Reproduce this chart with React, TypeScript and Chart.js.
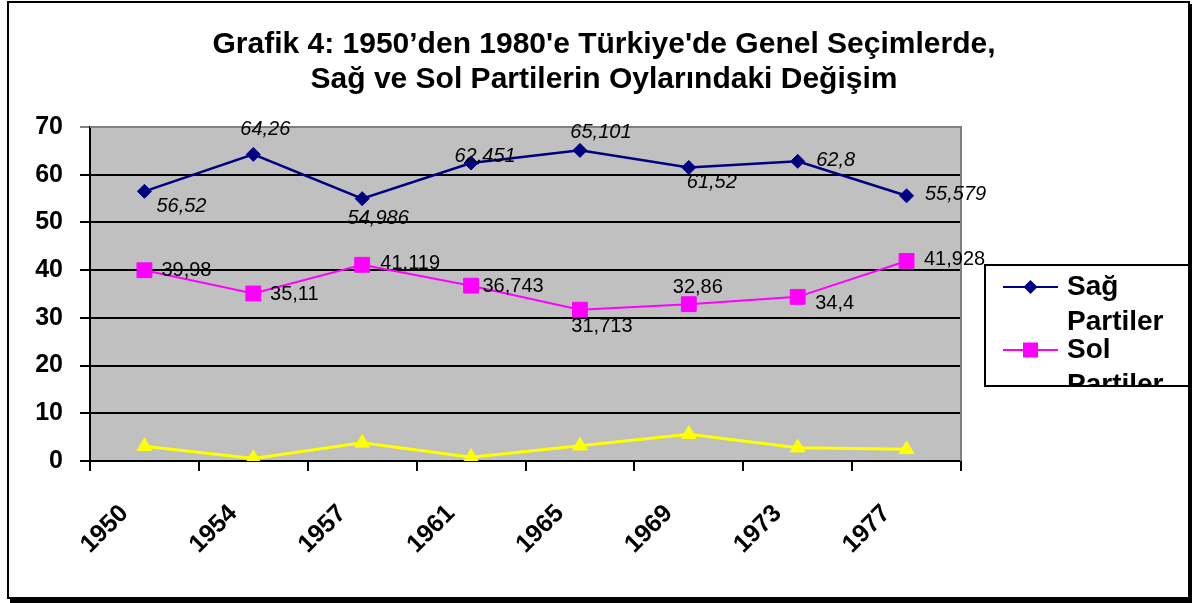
import React, { useEffect, useRef } from "react";
import { Chart, registerables } from "chart.js";

Chart.register(...registerables);

// ---------- data ----------
const categories = ["1950", "1954", "1957", "1961", "1965", "1969", "1973", "1977"];
const sagPartiler = [56.52, 64.26, 54.986, 62.451, 65.101, 61.52, 62.8, 55.579];
const solPartiler = [39.98, 35.11, 41.119, 36.743, 31.713, 32.86, 34.4, 41.928];
const digerPartiler = [3.1, 0.55, 3.8, 0.8, 3.2, 5.6, 2.8, 2.45];
const yTickValues = [0, 10, 20, 30, 40, 50, 60, 70];
const seriesNames = ["Sağ Partiler", "Sol Partiler", "Diğer Partiler"];
const titleLines = [
  "Grafik 4: 1950’den 1980'e Türkiye'de Genel Seçimlerde,",
  "Sağ ve Sol Partilerin Oylarındaki Değişim",
];

// ---------- styles / label placement (pixel offsets from each point) ----------
const FONT = "'Liberation Sans', Arial, sans-serif";
const sagLabelOffsets = [[37, 15], [12, -25], [16, 20], [14, -7], [21, -18], [23, 15], [38, -1], [49, -1]];
const solLabelOffsets = [[42, 0], [41, 1.5], [48, -1], [42, 1], [22, 17], [9, -17], [37, 7], [48, -1]];

const fmt = (v: number) => String(v).replace(".", ",");

const frameAndTitlePlugin = {
  id: "frameAndTitle",
  beforeDraw(chart: any) {
    const { ctx, chartArea } = chart;
    ctx.save();
    ctx.fillStyle = "#ffffff";
    ctx.fillRect(0, 0, chart.width, chart.height);
    ctx.fillStyle = "#C0C0C0";
    ctx.fillRect(chartArea.left, chartArea.top, chartArea.right - chartArea.left, chartArea.bottom - chartArea.top);
    ctx.restore();
  },
  beforeDatasetsDraw(chart: any) {
    const { ctx, chartArea } = chart;
    ctx.save();
    ctx.strokeStyle = "#808080";
    ctx.lineWidth = 2;
    ctx.beginPath();
    ctx.moveTo(chartArea.left, chartArea.top);
    ctx.lineTo(chartArea.right, chartArea.top);
    ctx.lineTo(chartArea.right, chartArea.bottom);
    ctx.stroke();
    ctx.restore();
  },
  afterDraw(chart: any) {
    const { ctx } = chart;
    ctx.save();
    // title
    ctx.fillStyle = "#000";
    ctx.font = `bold 30px ${FONT}`;
    ctx.textAlign = "center";
    ctx.textBaseline = "middle";
    titleLines.forEach((t, i) => ctx.fillText(t, 604, 45 + i * 35));
    // outer frame
    ctx.strokeStyle = "#000";
    ctx.lineWidth = 2;
    ctx.strokeRect(8, 2, 1181, 596);
    ctx.fillStyle = "#000";
    ctx.fillRect(10, 598, 1182, 5);
    ctx.fillRect(1189, 4, 3, 599);
    // legend
    const lx = 985, ly = 265, lw = 204, lh = 121;
    ctx.fillStyle = "#fff";
    ctx.fillRect(lx, ly, lw, lh);
    ctx.strokeStyle = "#000";
    ctx.lineWidth = 2;
    ctx.strokeRect(lx, ly, lw, lh);
    ctx.beginPath();
    ctx.rect(lx + 1, ly + 1, lw - 2, lh - 2);
    ctx.clip();
    chart.data.datasets.forEach((ds: any, i: number) => {
      const cy = ly + 22 + i * 63;
      ctx.strokeStyle = ds.borderColor;
      ctx.lineWidth = 2;
      ctx.beginPath();
      ctx.moveTo(lx + 18, cy);
      ctx.lineTo(lx + 73, cy);
      ctx.stroke();
      ctx.fillStyle = ds.backgroundColor;
      const mx = lx + 45.5;
      ctx.beginPath();
      if (ds.pointStyle === "rectRot") {
        ctx.moveTo(mx - 7, cy); ctx.lineTo(mx, cy - 7); ctx.lineTo(mx + 7, cy); ctx.lineTo(mx, cy + 7);
      } else if (ds.pointStyle === "rect") {
        ctx.rect(mx - 7.5, cy - 7.5, 15, 15);
      } else {
        ctx.moveTo(mx, cy - 8); ctx.lineTo(mx + 7.5, cy + 5); ctx.lineTo(mx - 7.5, cy + 5);
      }
      ctx.closePath();
      ctx.fill();
      ctx.fillStyle = "#000";
      ctx.font = `bold 28px ${FONT}`;
      ctx.textAlign = "left";
      ctx.textBaseline = "middle";
      const words = String(ds.label).split(" ");
      words.forEach((w, j) => ctx.fillText(w, lx + 82, cy + j * 35));
    });
    ctx.restore();
  },
  afterDatasetsDraw(chart: any) {
    const { ctx } = chart;
    ctx.save();
    ctx.fillStyle = "#000";
    ctx.textAlign = "center";
    ctx.textBaseline = "middle";
    const cfg = [
      { idx: 0, offsets: sagLabelOffsets, font: `italic 20px ${FONT}` },
      { idx: 1, offsets: solLabelOffsets, font: `20px ${FONT}` },
    ];
    cfg.forEach(({ idx, offsets, font }) => {
      const meta = chart.getDatasetMeta(idx);
      const values = chart.data.datasets[idx].data;
      ctx.font = font;
      meta.data.forEach((pt: any, i: number) => {
        const [dx, dy] = offsets[i];
        ctx.fillText(fmt(values[i]), pt.x + dx, pt.y + dy);
      });
    });
    ctx.restore();
  },
};

export default function App() {
  const ref = useRef<HTMLCanvasElement>(null);
  useEffect(() => {
    document.body.style.margin = "0";
    const canvas = ref.current!;
    const chart = new Chart(canvas, {
      type: "line",
      data: {
        labels: categories,
        datasets: [
          {
            label: seriesNames[0],
            data: sagPartiler,
            borderColor: "#000080",
            backgroundColor: "#000080",
            borderWidth: 2.5,
            pointStyle: "rectRot",
            pointRadius: 7,
            pointHoverRadius: 7,
            pointBorderWidth: 1,
            tension: 0,
          },
          {
            label: seriesNames[1],
            data: solPartiler,
            borderColor: "#FF00FF",
            backgroundColor: "#FF00FF",
            borderWidth: 2,
            pointStyle: "rect",
            pointRadius: 10.5,
            pointHoverRadius: 10.5,
            pointBorderWidth: 1,
            tension: 0,
          },
          {
            label: seriesNames[2],
            data: digerPartiler,
            borderColor: "#FFFF00",
            backgroundColor: "#FFFF00",
            borderWidth: 3,
            pointStyle: "triangle",
            pointRadius: 8.5,
            pointHoverRadius: 8.5,
            pointBorderWidth: 1,
            tension: 0,
          },
        ],
      },
      options: {
        responsive: false,
        animation: false,
        events: [],
        layout: { padding: { left: 0, top: 127, right: 235, bottom: 0 } },
        plugins: {
          legend: { display: false },
          title: { display: false },
          tooltip: { enabled: false },
        },
        scales: {
          x: {
            type: "category",
            offset: true,
            grid: {
              offset: true,
              drawOnChartArea: false,
              drawTicks: true,
              tickLength: 10,
              color: "#000",
              lineWidth: 2,
            },
            border: { display: true, color: "#000", width: 2 },
            ticks: {
              autoSkip: false,
              minRotation: 45,
              maxRotation: 45,
              padding: 28,
              labelOffset: -20,
              color: "#000",
              font: { family: FONT, size: 25, weight: "bold" },
            },
            afterFit: (s: any) => {
              s.height = 142;
            },
          },
          y: {
            min: 0,
            max: 70,
            afterBuildTicks: (s: any) => {
              s.ticks = yTickValues.map((v) => ({ value: v }));
            },
            grid: {
              color: (c: any) => (c.tick && c.tick.value === 70 ? "#808080" : "#000"),
              lineWidth: 2,
              tickLength: 10,
              drawTicks: true,
            },
            border: { display: true, color: "#000", width: 2 },
            ticks: {
              padding: 17,
              color: "#000",
              font: { family: FONT, size: 25, weight: "bold" },
            },
            afterFit: (s: any) => {
              s.width = 90;
            },
          },
        },
      },
      plugins: [frameAndTitlePlugin],
    });
    return () => chart.destroy();
  }, []);
  return (
    <div style={{ position: "relative", width: 1196, height: 603 }}>
      <canvas ref={ref} width={1196} height={603} style={{ display: "block", width: 1196, height: 603 }} />
    </div>
  );
}
